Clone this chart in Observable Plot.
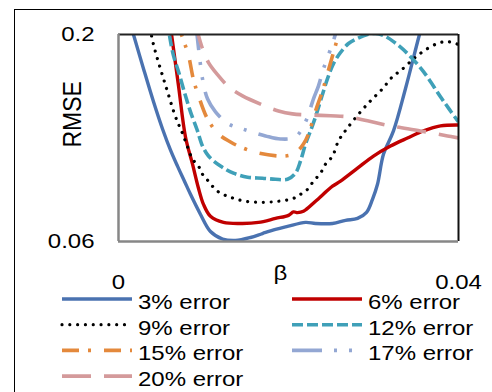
<!DOCTYPE html>
<html>
<head>
<meta charset="utf-8">
<script src="https://cdn.jsdelivr.net/npm/d3@7"></script>
<script src="https://cdn.jsdelivr.net/npm/@observablehq/plot@0.6"></script>
<style>
  html, body { margin: 0; padding: 0; background: #fff; overflow: hidden; }
  #wrap { position: relative; width: 492px; height: 392px; font-family: "Liberation Sans", Arial, sans-serif; }
  #border { position: absolute; left: 14px; top: 9px; width: 600px; height: 600px; border: 1px solid #000; box-sizing: border-box; }
  #chart { position: absolute; left: 0; top: 0; }
  #legend { position: absolute; left: 0; top: 292px; overflow: visible; }
</style>
</head>
<body>
<div id="wrap">
  <div id="border"></div>
  <div id="chart"></div>
  <svg id="legend" width="492" height="100"></svg>
</div>
<script>
// Axis labels and ticks
const xLabel = "β";
const yLabel = "RMSE";
const xTicks = [0, 0.04];
const xTickLabels = ["0", "0.04"];
const yTicks = [0.06, 0.2];
const yTickLabels = ["0.06", "0.2"];

// Series names, in legend order
const seriesNames = ["3% error", "6% error", "9% error", "12% error", "15% error", "17% error", "20% error"];

// Each series: [β, RMSE] pairs
const err3 = [[0.00129,0.2095],[0.00176,0.2000],[0.00294,0.1769],[0.00412,0.1545],[0.00518,0.1361],[0.00612,0.1218],[0.00694,0.1110],[0.00776,0.1008],[0.00847,0.0919],[0.00965,0.0783],[0.01082,0.0668],[0.01224,0.0617],[0.01376,0.0607],[0.01553,0.0627],[0.01694,0.0654],[0.01847,0.0682],[0.01988,0.0702],[0.02200,0.0729],[0.02318,0.0722],[0.02518,0.0722],[0.02671,0.0743],[0.02812,0.0756],[0.02918,0.0797],[0.02988,0.0885],[0.03047,0.0987],[0.03118,0.1191],[0.03235,0.1348],[0.03376,0.1633],[0.03541,0.2000],[0.03588,0.2095]];
const err6 = [[0.00600,0.2095],[0.00624,0.2000],[0.00706,0.1653],[0.00788,0.1307],[0.00871,0.1123],[0.00941,0.0960],[0.01000,0.0851],[0.01082,0.0770],[0.01235,0.0729],[0.01459,0.0722],[0.01647,0.0729],[0.01847,0.0756],[0.02000,0.0777],[0.02059,0.0800],[0.02106,0.0795],[0.02176,0.0804],[0.02318,0.0872],[0.02518,0.0974],[0.02612,0.1008],[0.02812,0.1096],[0.03000,0.1178],[0.03200,0.1246],[0.03400,0.1300],[0.03588,0.1348],[0.03788,0.1382],[0.04000,0.1388]];
const err9 = [[0.00365,0.2095],[0.00388,0.1993],[0.00424,0.1905],[0.00471,0.1810],[0.00529,0.1701],[0.00588,0.1592],[0.00647,0.1483],[0.00694,0.1409],[0.00741,0.1348],[0.00800,0.1259],[0.00871,0.1157],[0.00941,0.1110],[0.00988,0.1055],[0.01047,0.1015],[0.01165,0.0940],[0.01318,0.0899],[0.01494,0.0872],[0.01694,0.0865],[0.01882,0.0872],[0.02059,0.0892],[0.02141,0.0919],[0.02224,0.0953],[0.02294,0.1008],[0.02376,0.1062],[0.02435,0.1123],[0.02518,0.1178],[0.02588,0.1280],[0.02694,0.1368],[0.02847,0.1477],[0.02965,0.1551],[0.03106,0.1633],[0.03224,0.1715],[0.03318,0.1755],[0.03435,0.1817],[0.03518,0.1857],[0.03635,0.1905],[0.03753,0.1939],[0.03847,0.1952],[0.03929,0.1946],[0.04000,0.1932]];
const err12 = [[0.00576,0.2095],[0.00600,0.1993],[0.00647,0.1857],[0.00706,0.1749],[0.00788,0.1585],[0.00847,0.1477],[0.00929,0.1348],[0.00988,0.1246],[0.01059,0.1178],[0.01200,0.1110],[0.01353,0.1062],[0.01518,0.1035],[0.01694,0.1028],[0.01847,0.1021],[0.01988,0.1021],[0.02082,0.1062],[0.02141,0.1144],[0.02200,0.1259],[0.02259,0.1348],[0.02318,0.1443],[0.02376,0.1551],[0.02459,0.1701],[0.02529,0.1803],[0.02612,0.1878],[0.02706,0.1939],[0.02812,0.1973],[0.02929,0.2000],[0.03024,0.2007],[0.03118,0.1993],[0.03235,0.1952],[0.03400,0.1871],[0.03588,0.1749],[0.03788,0.1579],[0.03906,0.1483],[0.04000,0.1409]];
const err15 = [[0.00682,0.2095],[0.00753,0.1980],[0.00824,0.1857],[0.00882,0.1694],[0.00941,0.1585],[0.01047,0.1429],[0.01176,0.1327],[0.01318,0.1273],[0.01435,0.1239],[0.01647,0.1198],[0.01906,0.1178],[0.02024,0.1185],[0.02106,0.1212],[0.02176,0.1259],[0.02235,0.1327],[0.02318,0.1483],[0.02400,0.1619],[0.02471,0.1762],[0.02529,0.1878],[0.02588,0.2000],[0.02624,0.2082]];
const err17 = [[0.00906,0.2095],[0.00929,0.1973],[0.00953,0.1850],[0.00988,0.1701],[0.01047,0.1565],[0.01141,0.1477],[0.01294,0.1395],[0.01459,0.1361],[0.01729,0.1314],[0.01906,0.1293],[0.02082,0.1307],[0.02200,0.1409],[0.02294,0.1565],[0.02353,0.1653],[0.02412,0.1769],[0.02518,0.1939],[0.02565,0.2027]];
const err20 = [[0.00894,0.2095],[0.00941,0.1993],[0.00988,0.1905],[0.01059,0.1810],[0.01165,0.1728],[0.01294,0.1647],[0.01459,0.1585],[0.01694,0.1524],[0.01882,0.1483],[0.02047,0.1463],[0.02259,0.1456],[0.02494,0.1450],[0.02706,0.1443],[0.02929,0.1416],[0.03200,0.1382],[0.03553,0.1348],[0.03871,0.1314],[0.04000,0.1300]];

const seriesValues = [err3, err6, err9, err12, err15, err17, err20];

// Line styles per series
const styles = [
  {stroke: "#4A72B0", width: 3.4, dash: null, cap: "round"},
  {stroke: "#C00000", width: 3.4, dash: null, cap: "round"},
  {stroke: "#000000", width: 3.2, dash: "0.01,7.8", cap: "round"},
  {stroke: "#3FA0B8", width: 3.6, dash: "11,4", cap: "butt"},
  {stroke: "#E4893C", width: 3.6, dash: "17,9,3,13", cap: "butt"},
  {stroke: "#93A7D3", width: 3.6, dash: "30,12,3,12,3,12", cap: "butt"},
  {stroke: "#D49A9B", width: 3.6, dash: "29,13", cap: "butt"}
];

const lineMarks = seriesValues.map((vals, i) =>
  Plot.line(vals, {
    x: d => d[0],
    y: d => d[1],
    stroke: styles[i].stroke,
    strokeWidth: styles[i].width,
    strokeDasharray: styles[i].dash,
    strokeLinecap: styles[i].cap,
    strokeLinejoin: "round",
    curve: "catmull-rom",
    clip: true
  })
);

const chart = Plot.plot({
  width: 492,
  height: 292,
  marginLeft: 118,
  marginRight: 34,
  marginTop: 34,
  marginBottom: 51,
  style: {fontFamily: "'Liberation Sans', Arial, sans-serif", fontSize: "20px", color: "#000", background: "transparent"},
  x: {domain: [0, 0.04], ticks: xTicks, tickFormat: d => xTickLabels[xTicks.indexOf(d)], tickSize: 0, tickPadding: 33, label: null},
  y: {domain: [0.06, 0.2], ticks: yTicks, tickFormat: d => yTickLabels[yTicks.indexOf(d)], tickSize: 0, tickPadding: 24, label: null},
  marks: [
    ...lineMarks,
    // plot-area frame
    Plot.ruleY([yTicks[1]], {stroke: "#222", strokeWidth: 2}),
    Plot.ruleX([xTicks[1]], {stroke: "#111", strokeWidth: 2}),
    Plot.ruleX([xTicks[0]], {stroke: "#878787", strokeWidth: 2.5}),
    Plot.ruleY([yTicks[0]], {stroke: "#878787", strokeWidth: 2.7}),
    // axis titles
    Plot.text([xLabel], {text: d => d, frameAnchor: "bottom", dx: -8, dy: 38, fontSize: 20}),
    Plot.text([yLabel], {text: d => d, frameAnchor: "left", rotate: -90, dx: -46, dy: 9.5, fontSize: 23})
  ]
});

document.getElementById("chart").appendChild(chart);

// Widen the lettering horizontally
chart.querySelectorAll("text").forEach(t => {
  const tr = t.getAttribute("transform") || "";
  if (t.textContent === yLabel) {
    t.setAttribute("transform", tr + " scale(1,1.1)");
    return;
  }
  const x = t.getAttribute("x");
  if (x !== null) t.setAttribute("x", +x / 1.2);
  t.setAttribute("transform", tr + " scale(1.2,1)");
});

// Legend: two columns, row-major
const leg = d3.select("#legend");
seriesNames.forEach((name, i) => {
  const col = i % 2, row = Math.floor(i / 2);
  const x0 = col ? 292 : 62;
  const base = 17 + row * 25.7;
  const g = leg.append("g").attr("transform", `translate(${x0},${base})`);
  const s = styles[i];
  g.append("line")
    .attr("x1", 0).attr("x2", 70).attr("y1", -10).attr("y2", -10)
    .attr("stroke", s.stroke)
    .attr("stroke-width", s.width)
    .attr("stroke-dasharray", s.dash)
    .attr("stroke-linecap", s.cap === "round" && s.dash ? "round" : "butt");
  g.append("text")
    .attr("transform", "translate(76,0) scale(1.2,1)")
    .attr("font-family", "'Liberation Sans', Arial, sans-serif")
    .attr("font-size", 20)
    .attr("fill", "#000")
    .text(name);
});
</script>
</body>
</html>
